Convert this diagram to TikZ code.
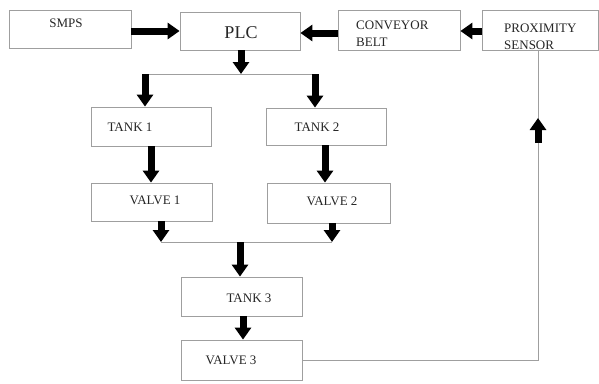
\documentclass[tikz,border=0pt]{standalone}
\usepackage{fontspec}
\setmainfont{Liberation Serif}
\usetikzlibrary{arrows.meta}
\tikzset{
  box/.style={draw=gray!75, line width=0.8pt, fill=white, inner sep=0pt},
  lbl/.style={inner sep=0pt, font=\fontsize{13}{17}\selectfont, text=black!85},
  bigarrow/.style={line width=7pt, -{Triangle[width=16pt,length=12pt]}, black},
  thin/.style={draw=gray!75, line width=0.9pt},
}
\begin{document}
\begin{tikzpicture}[x=1pt,y=-1pt]
\useasboundingbox (0,0) rectangle (599,383);
% boxes
\node[box, minimum width=122pt, minimum height=38pt] (smps) at (70,29) {};
\node[box, minimum width=120pt, minimum height=38pt] (plc) at (240,31) {};
\node[box, minimum width=122pt, minimum height=40pt] (conv) at (399,30) {};
\node[box, minimum width=116pt, minimum height=40pt] (prox) at (540,30) {};
\node[box, minimum width=120pt, minimum height=39pt] (tank1) at (151,126.5) {};
\node[box, minimum width=120pt, minimum height=37pt] (tank2) at (326,126.5) {};
\node[box, minimum width=121pt, minimum height=38pt] (valve1) at (151.5,202) {};
\node[box, minimum width=123pt, minimum height=40pt] (valve2) at (328.5,203) {};
\node[box, minimum width=121pt, minimum height=39pt] (tank3) at (241.5,296.5) {};
\node[box, minimum width=121pt, minimum height=40pt] (valve3) at (241.5,360) {};
% labels
\node[lbl] (tsmps) at (66,23) {SMPS};
\node[lbl, font=\fontsize{18}{20}\selectfont] (tplc) at (241,33) {PLC};
\node[lbl, anchor=west, align=left] (tconv) at (356,34) {CONVEYOR\\BELT};
\node[lbl, anchor=west, align=left] (tprox) at (504,37) {PROXIMITY\\SENSOR};
\node[lbl] (tt1) at (130,127) {TANK 1};
\node[lbl] (tt2) at (317,127) {TANK 2};
\node[lbl] (tv1) at (155,200) {VALVE 1};
\node[lbl] (tv2) at (332,201) {VALVE 2};
\node[lbl] (tt3) at (249,298) {TANK 3};
\node[lbl] (tv3) at (231,360) {VALVE 3};
% junction coordinates
\coordinate (j1) at (241,74);
\coordinate (j1l) at (145,74);
\coordinate (j1r) at (315,74);
\coordinate (j2) at (240,242);
\coordinate (j2l) at (161,242);
\coordinate (j2r) at (332,242);
\coordinate (fb) at (538,360);
\coordinate (fbh) at (538,143);
\coordinate (fbt) at (538,118);
% top row arrows
\draw[bigarrow] (smps.east |- 0,31) -- (plc.west |- 0,31);
\draw[bigarrow] (conv.west |- 0,33) -- (plc.east |- 0,33);
\draw[bigarrow] (prox.west |- 0,31) -- (conv.east |- 0,31);
% PLC to tanks
\draw[thin] (j1l) -- (j1r);
\draw[bigarrow] (plc.south -| j1) -- (j1);
\draw[bigarrow] (j1l) -- (tank1.north -| j1l);
\draw[bigarrow] (j1r) -- (tank2.north -| j1r);
% tanks to valves
\draw[bigarrow] (tank1.south -| 151,0) -- (valve1.north -| 151,0);
\draw[bigarrow] (tank2.south -| 325,0) -- (valve2.north -| 325,0);
% valves to tank 3
\draw[thin] (j2l) -- (j2r);
\draw[bigarrow] (valve1.south -| j2l) -- (j2l);
\draw[bigarrow] (valve2.south -| j2r) -- (j2r);
\draw[bigarrow] (j2) -- (tank3.north -| j2);
\draw[bigarrow] (tank3.south -| 243,0) -- (valve3.north -| 243,0);
% feedback
\draw[thin] (valve3.east |- fb) -- (fb) -- (prox.south -| fb);
\draw[bigarrow] (fbh) -- (fbt);
\end{tikzpicture}
\end{document}
